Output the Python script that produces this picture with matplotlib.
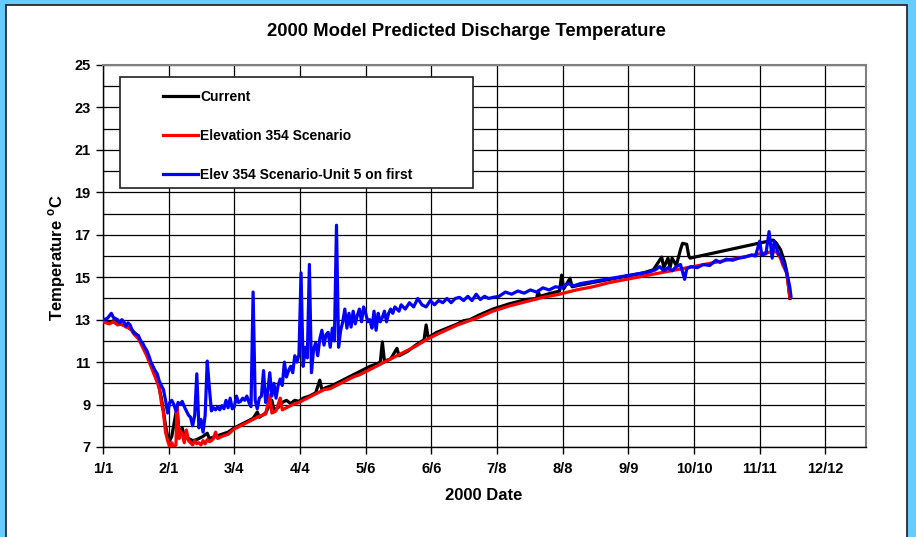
import matplotlib
matplotlib.use("Agg")
import matplotlib.pyplot as plt
from matplotlib.patches import Rectangle

plt.rcParams['font.family'] = ['Liberation Sans', 'DejaVu Sans']
plt.rcParams['font.weight'] = 'bold'
plt.rcParams['mathtext.fontset'] = 'custom'
plt.rcParams['mathtext.rm'] = 'Liberation Sans:bold'
plt.rcParams['mathtext.bf'] = 'Liberation Sans:bold'

# data: days since 1/1/2000 and discharge temperature (deg C)
tick_labels = ['1/1', '2/1', '3/4', '4/4', '5/6', '6/6', '7/8', '8/8', '9/9', '10/10', '11/11', '12/12']

current_day = [0, 3, 5, 8, 11, 14, 17, 20, 23, 26, 28, 29, 30, 31, 32, 33, 35.5, 36.5, 38, 39,
               41, 43, 45, 48, 50, 51, 54, 57, 60, 63, 66, 69, 72, 74, 75, 78, 81, 82, 84, 86,
               88, 90, 92, 94, 96, 99, 102, 104, 105, 107, 110, 113, 116, 119, 122, 125, 128, 131, 133, 134,
               135, 138, 141, 142, 146, 150, 154, 155, 156, 160, 165, 170, 173, 176, 180, 187, 195, 203, 208, 208.7,
               209.5, 215, 219, 220, 221, 224, 225, 230, 235, 243, 251, 259, 264, 268, 269, 271, 272, 273, 275, 277,
               278, 280, 281, 281.6, 321.5, 323, 325, 327, 328, 329.5]
current_temp = [13.0, 12.85, 12.95, 12.8, 12.7, 12.5, 12.2, 11.6, 10.9, 10.2, 9.3, 8.7, 8.0, 7.5, 7.3, 7.5, 8.9, 7.6, 7.9, 7.5,
                7.4, 7.3, 7.35, 7.5, 7.65, 7.4, 7.5, 7.6, 7.7, 7.9, 8.05, 8.2, 8.35, 8.65, 8.4, 8.6, 9.2, 8.75, 8.85, 9.1,
                9.2, 9.05, 9.2, 9.15, 9.3, 9.4, 9.55, 10.15, 9.7, 9.8, 9.9, 10.05, 10.2, 10.35, 10.5, 10.65, 10.8, 10.9, 11.0, 11.95,
                11.05, 11.15, 11.65, 11.3, 11.5, 11.8, 12.05, 12.75, 12.15, 12.4, 12.6, 12.8, 12.95, 13.0, 13.2, 13.5, 13.75, 13.95, 14.0, 14.35,
                14.1, 14.25, 14.35, 15.1, 14.45, 14.95, 14.55, 14.65, 14.75, 14.9, 15.05, 15.2, 15.35, 15.95, 15.45, 15.9, 15.45, 15.9, 15.55, 16.3,
                16.6, 16.55, 16.0, 15.9, 16.75, 16.6, 16.3, 15.7, 15.25, 14.0]

elev_day = [0, 3, 5, 7, 9, 11, 13, 15, 17, 19, 21, 23, 25, 27, 28, 29, 30, 31, 32, 33,
            34, 35, 35.5, 36.5, 37, 38, 39, 40, 41, 42, 43, 44, 45, 46, 47, 48, 49, 50, 51, 52,
            53, 54, 55, 57, 60, 63, 66, 69, 72, 75, 78, 80, 81, 83, 85, 86, 88, 91, 94, 97,
            100, 103, 106, 109, 112, 115, 118, 120, 123, 130, 140, 150, 155, 160, 170, 180, 187, 195, 203, 211,
            219, 227, 235, 243, 251, 259, 267, 275, 283, 291, 299, 307, 315, 321, 323, 325, 326, 328, 329.5]
elev_temp = [12.9, 12.8, 12.9, 12.75, 12.8, 12.65, 12.6, 12.3, 12.1, 11.7, 11.3, 10.8, 10.3, 9.8, 9.1, 8.6, 7.7, 7.3, 7.0, 7.2,
             7.0, 7.1, 8.9, 7.4, 7.8, 7.6, 7.2, 7.8, 7.3, 7.2, 7.1, 7.3, 7.15, 7.2, 7.1, 7.3, 7.15, 7.35, 7.25, 7.3,
             7.4, 7.7, 7.4, 7.5, 7.6, 7.85, 8.0, 8.15, 8.3, 8.45, 8.55, 9.45, 8.6, 8.7, 9.3, 8.75, 8.85, 9.0, 9.1, 9.25,
             9.4, 9.55, 9.7, 9.75, 9.9, 10.05, 10.2, 10.3, 10.4, 10.75, 11.25, 11.75, 12.05, 12.3, 12.75, 13.1, 13.4, 13.65, 13.85, 14.05,
             14.2, 14.4, 14.55, 14.75, 14.9, 15.05, 15.2, 15.35, 15.5, 15.65, 15.8, 15.95, 16.1, 16.2, 16.2, 15.9, 15.6, 15.2, 14.05]

unit5_day = [0, 2, 4, 5, 7, 8, 9, 10, 11, 12, 13, 14, 15, 17, 18, 19, 20, 21, 22, 23,
             24, 25, 26, 27, 28, 29, 30, 31, 32, 33, 34, 35, 36, 37, 38, 39, 40, 41, 42, 43,
             44, 45, 46, 47, 48, 49, 50, 51, 52, 53, 54, 55, 56, 57, 58, 59, 60, 61, 62, 63,
             64, 65, 66, 67, 68, 69, 70, 71, 72, 73, 74, 75, 76, 77, 78, 79, 80, 81, 82, 83,
             84, 85, 86, 87, 88, 89, 90, 91, 92, 93, 94, 95, 96, 97, 98, 99, 100, 101, 102, 103,
             104, 105, 106, 107, 108, 109, 110, 111, 112, 113, 114, 115, 116, 117, 118, 119, 120, 121, 122, 123,
             124, 125, 126, 127, 128, 129, 130, 131, 132, 133, 134, 135, 136, 137, 138, 139, 140, 142, 143, 145,
             147, 149, 151, 153, 155, 157, 159, 161, 163, 165, 167, 169, 171, 173, 175, 177, 179, 181, 183, 185,
             187, 190, 193, 196, 199, 202, 205, 208, 211, 214, 217, 220, 223, 226, 229, 232, 235, 238, 241, 244,
             247, 250, 253, 256, 259, 262, 265, 267, 269, 271, 273, 275, 277, 279, 280, 282, 285, 288, 291, 294,
             296, 299, 302, 305, 308, 311, 313, 315, 316, 318, 319.5, 321, 322, 324, 325, 327, 328.5, 329.5, 330]
unit5_temp = [13.0, 13.05, 13.3, 13.1, 13.0, 12.85, 13.0, 12.9, 12.7, 12.85, 12.75, 12.5, 12.35, 12.25, 12.0, 11.9, 11.7, 11.55, 11.3, 11.0,
              10.8, 10.6, 10.45, 10.1, 9.9, 9.7, 9.2, 8.6, 9.1, 9.2, 9.0, 8.7, 9.1, 9.0, 9.15, 8.9, 8.7, 8.5, 8.4, 8.0,
              8.5, 10.45, 7.9, 8.3, 7.7, 8.5, 11.05, 9.8, 8.7, 8.85, 8.75, 8.9, 8.75, 8.95, 8.8, 9.2, 8.85, 9.3, 8.8, 8.9,
              9.4, 9.1, 9.15, 9.3, 9.2, 9.4, 9.1, 8.9, 14.3, 9.2, 8.8, 9.3, 9.4, 10.6, 9.1, 9.6, 10.5, 9.4, 10.0, 9.3,
              9.9, 10.2, 9.9, 11.0, 10.3, 10.6, 10.8, 10.5, 11.3, 11.0, 11.35, 15.2, 10.8, 11.7, 11.2, 15.6, 10.5, 11.6, 11.9, 11.3,
              12.1, 12.5, 11.8, 12.3, 12.4, 11.7, 12.6, 12.0, 17.45, 11.7, 12.5, 12.9, 13.5, 12.6, 13.3, 12.65, 13.4, 12.8, 13.2, 13.5,
              12.9, 13.6, 13.3, 12.9, 13.0, 12.6, 13.4, 12.5, 13.3, 12.9, 13.1, 13.4, 12.9, 13.3, 13.5, 13.3, 13.6, 13.4, 13.7, 13.5,
              13.8, 13.6, 14.0, 13.7, 13.6, 13.9, 13.7, 13.9, 13.8, 14.0, 13.8, 14.0, 14.05, 13.9, 14.1, 13.9, 14.2, 13.95, 14.1, 14.0,
              14.05, 14.1, 14.3, 14.2, 14.35, 14.25, 14.4, 14.3, 14.5, 14.4, 14.55, 14.5, 14.7, 14.6, 14.7, 14.75, 14.8, 14.85, 14.9, 14.95,
              15.0, 15.05, 15.1, 15.15, 15.2, 15.25, 15.35, 15.5, 15.3, 15.45, 15.3, 15.5, 15.6, 14.9, 15.4, 15.5, 15.45, 15.6, 15.55, 15.8,
              15.7, 15.85, 15.8, 15.9, 15.95, 16.05, 16.0, 16.7, 16.05, 16.1, 17.15, 15.9, 16.7, 16.1, 16.0, 15.5, 15.0, 14.5, 14.1]

fig = plt.figure(figsize=(9.16, 5.37), dpi=100)
fig.patch.set_facecolor('#66ccff')
# white chart area with dark edge (bottom runs off the picture)
fig.patches.append(Rectangle((6 / 916, -0.05), 901 / 916, 1.05 - 4.5 / 537, transform=fig.transFigure,
                             facecolor='white', edgecolor='#1a1a2a', linewidth=1.2, zorder=-5))

ax = fig.add_axes([103 / 916, 1 - 447 / 537, 763 / 916, 382 / 537])
ax.set_zorder(2)

ax.plot(current_day, current_temp, color='black', lw=2.3, label='Current', zorder=3)
ax.plot(elev_day, elev_temp, color='red', lw=2.3, label='Elevation 354 Scenario', zorder=4)
ax.plot(unit5_day, unit5_temp, color='blue', lw=2.3, label='Elev 354 Scenario-Unit 5 on first', zorder=5)

ax.set_xlim(0, 366)
ax.set_ylim(7, 25)
ax.set_xticks([k * 31.5 for k in range(len(tick_labels))])
ax.set_xticklabels(tick_labels)
ax.set_yticks(range(7, 26, 2))
ax.set_yticks(range(8, 25, 2), minor=True)
ax.tick_params(axis='both', which='major', labelsize=10.5, direction='out', length=5, width=1, color='black')
ax.tick_params(axis='y', which='minor', length=0)
ax.tick_params(axis='x', pad=6)
ax.tick_params(axis='y', pad=4)
for lab in ax.get_xticklabels() + ax.get_yticklabels():
    lab.set_fontweight('bold')
ax.grid(True, which='both', axis='y', color='black', lw=0.9)
ax.grid(True, which='major', axis='x', color='black', lw=0.9)
ax.set_axisbelow(True)

for side in ['left', 'bottom']:
    ax.spines[side].set_color('black')
    ax.spines[side].set_linewidth(1)
for side in ['top', 'right']:
    ax.spines[side].set_color('#808080')
    ax.spines[side].set_linewidth(1.5)

# legend box
ax.add_patch(Rectangle((17 / 763, 1 - 123 / 382), 353 / 763, 111 / 382,
                       transform=ax.transAxes, facecolor='white', edgecolor='#202020',
                       linewidth=1.2, zorder=6))
leg = ax.legend(loc='upper left', bbox_to_anchor=(60 / 763, 0.935), frameon=False,
                prop={'weight': 'bold', 'size': 10}, borderpad=0, borderaxespad=0,
                handlelength=2.5, handletextpad=0.2, labelspacing=1.8)
leg.set_zorder(7)
for h in leg.get_lines():
    h.set_linewidth(2.3)

fig.text(466 / 916, 1 - 32 / 537, '2000 Model Predicted Discharge Temperature',
         ha='center', va='center', fontsize=13.3, fontweight='bold')
fig.text(484 / 916, 1 - 496 / 537, '2000 Date', ha='center', va='center', fontsize=12, fontweight='bold')
fig.text(57 / 916, 1 - 258 / 537, 'Temperature $^{\\mathrm{o}}$C', ha='center', va='center',
         rotation=90, fontsize=12, fontweight='bold')

fig.savefig('out.png', dpi=100, facecolor=fig.get_facecolor())
